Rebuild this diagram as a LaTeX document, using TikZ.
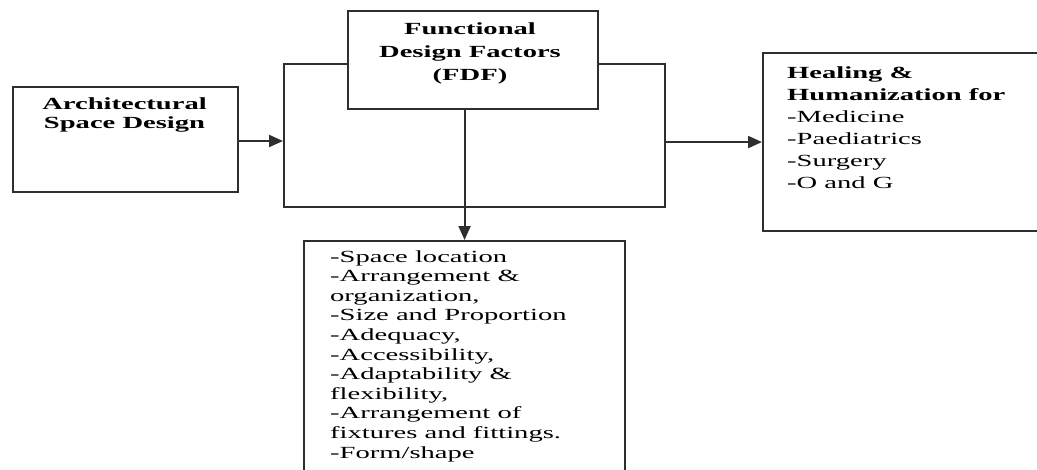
\documentclass[tikz,border=0pt]{standalone}
\usepackage{fontspec}
\setmainfont{Liberation Serif}[FakeStretch=1.68]
\usetikzlibrary{arrows.meta}
\begin{document}
\begin{tikzpicture}[x=1pt,y=-1pt,
  line/.style={draw=black!82, line width=2.1pt},
  box/.style={line, rectangle, inner sep=0pt, anchor=north west, fill=white},
  arr/.style={line, -{Triangle[length=14pt,width=12pt]}},
  txt/.style={inner sep=0pt, text=black}]
\useasboundingbox (0,0) rectangle (1037,469);
\clip (0,0) rectangle (1037,469);
\fill[white] (0,0) rectangle (1037,469);
% boxes
\node[box, minimum width=225pt, minimum height=105pt] (asd) at (12,86) {};
\node[line, rectangle, inner sep=0pt, anchor=north west, minimum width=381pt, minimum height=143pt] (frame) at (283,63) {};
\node[box, minimum width=250pt, minimum height=98pt] (fdf) at (347,10) {};
\node[box, minimum width=290pt, minimum height=178pt] (heal) at (762,52) {};
\node[box, minimum width=321pt, minimum height=240pt] (list) at (303,240) {};
% texts (base anchor = baseline of the last line)
\node[txt, anchor=base, align=center, font=\bfseries\fontsize{17}{19}\selectfont] (asdtxt) at (124.5,128) {Architectural\\Space Design};
\node[txt, anchor=base, align=center, font=\bfseries\fontsize{17}{23}\selectfont] (fdftxt) at (470,80) {Functional\\Design Factors\\(FDF)};
\node[txt, anchor=base west, align=left, font=\fontsize{17}{22}\selectfont] (healtxt) at (787,188) {\textbf{Healing \&}\\\textbf{Humanization for}\\-Medicine\\-Paediatrics\\-Surgery\\-O and G};
\node[txt, anchor=base west, align=left, font=\fontsize{17}{19.6}\selectfont] (listtxt) at (330,458) {-Space location\\-Arrangement \&\\organization,\\-Size and Proportion\\-Adequacy,\\-Accessibility,\\-Adaptability \&\\flexibility,\\-Arrangement of\\fixtures and fittings.\\-Form/shape};
% connectors
\draw[arr] (asd.east |- 0,141) -- (frame.west |- 0,141);
\draw[arr] (frame.east |- heal.west) -- (heal.west);
\draw[arr] (fdf.south -| list.north) -- (list.north);
\end{tikzpicture}
\end{document}
